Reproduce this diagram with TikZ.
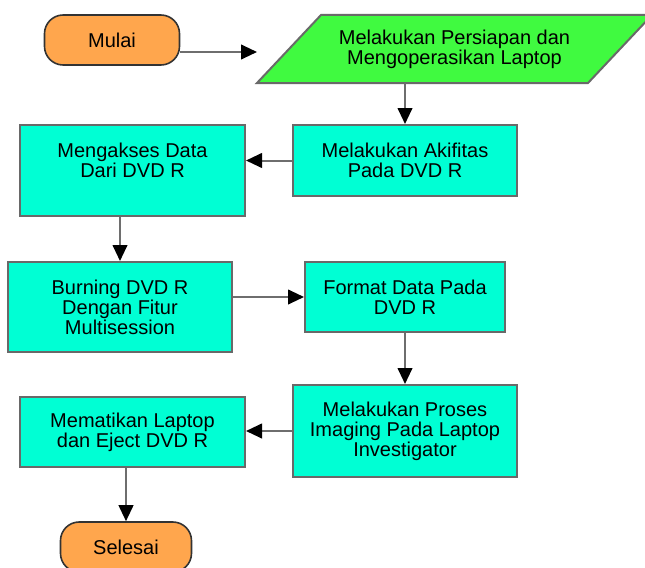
\documentclass[tikz,border=0pt]{standalone}
\usepackage{fontspec}
\setmainfont{Liberation Sans}
\usetikzlibrary{arrows.meta}
\definecolor{boxfill}{RGB}{0,255,212}
\definecolor{parafill}{RGB}{64,250,64}
\definecolor{termfill}{RGB}{255,166,77}
\definecolor{boxline}{RGB}{105,105,105}
\definecolor{arrline}{RGB}{110,110,110}
\begin{document}
\begin{tikzpicture}[x=0.75pt,y=-0.75pt,
  every node/.style={font=\fontsize{15}{15}\selectfont, align=center, inner sep=0pt},
  procbox/.style={draw=boxline, line width=1.5pt, fill=boxfill},
  term/.style={draw=black!80, line width=1.2pt, fill=termfill, rounded corners=14pt,
    minimum height=37.5pt},
  flow/.style={draw=arrline, line width=1.5pt, -{Triangle[length=12pt,width=11pt,color=black]}}
]
\useasboundingbox (0,0) rectangle (645,567);
\clip (0,0) rectangle (645,567);

% start
\node[term, minimum width=101.25pt] (mulai) at (112,40) {Mulai};

% parallelogram
\draw[fill=parafill, draw=boxline, line width=1.5pt] (321,15) -- (652,15) -- (588,83) -- (257,83) -- cycle;
\node[minimum width=296.25pt, minimum height=51pt] (prep) at (454.5,49)
  {Melakukan Persiapan dan\\Mengoperasikan Laptop};
\coordinate (pin) at (257,52);

% process boxes
\node[procbox, minimum width=168pt, minimum height=53.25pt] (akif) at (405,160.5)
  {Melakukan Akifitas\\Pada DVD R};
\node[procbox, minimum width=168.75pt, minimum height=68.25pt] (akses) at (132.5,170.5)
  {Mengakses Data\\Dari DVD R\\\mbox{}};
\node[procbox, minimum width=168pt, minimum height=67.5pt] (burn) at (120,307)
  {Burning DVD R\\Dengan Fitur\\Multisession};
\node[procbox, minimum width=150pt, minimum height=52.5pt] (format) at (405,297)
  {Format Data Pada\\DVD R};
\node[procbox, minimum width=168pt, minimum height=69pt] (proses) at (405,431)
  {Melakukan Proses\\Imaging Pada Laptop\\Investigator};
\node[procbox, minimum width=168.75pt, minimum height=52.5pt] (mati) at (132.5,432)
  {Mematikan Laptop\\dan Eject DVD R};

% end
\node[term, minimum width=98.25pt] (selesai) at (126,547) {Selesai};

% connectors
\draw[flow] (pin -| mulai.east) -- (pin);
\draw[flow] (prep.south -| akif.north) -- (akif.north);
\draw[flow] (akif.west) -- (akif.west -| akses.east);
\draw[flow] (burn.north |- akses.south) -- (burn.north);
\draw[flow] (format.west -| burn.east) -- (format.west);
\draw[flow] (format.south) -- (proses.north);
\draw[flow] (proses.west) -- (proses.west -| mati.east);
\draw[flow] (selesai.north |- mati.south) -- (selesai.north);
\end{tikzpicture}
\end{document}
